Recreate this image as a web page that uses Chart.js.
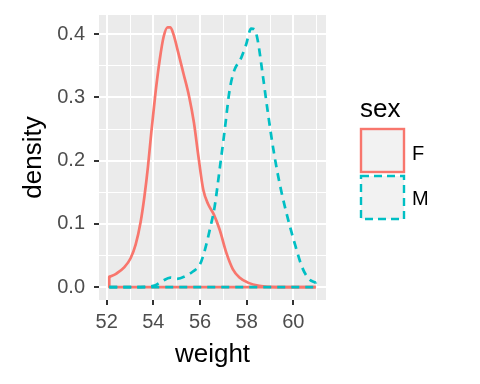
<!DOCTYPE html>
<html>
<head>
<meta charset="utf-8">
<script src="https://cdn.jsdelivr.net/npm/chart.js@4"></script>
<style>
  html, body { margin: 0; padding: 0; background: #ffffff; }
  #wrap { position: relative; width: 480px; height: 384px; }
  canvas { position: absolute; left: 0; top: 0; }
  .lg { position: absolute; font-family: "Liberation Sans", Arial, sans-serif; line-height: 1; color: #000; white-space: nowrap; }
</style>
</head>
<body>
<div id="wrap">
  <canvas id="c" width="480" height="384"></canvas>
  <div class="lg" id="legTitle" style="left:360px; top:95px; font-size:26px;"></div>
  <svg style="position:absolute; left:358px; top:126px;" width="50" height="100">
    <rect x="3" y="3" width="43" height="43" fill="#F2F2F2" stroke="#F8766D" stroke-width="2.4"/>
    <rect x="3" y="50" width="43" height="43" fill="#F2F2F2" stroke="#00BFC4" stroke-width="2.4" stroke-dasharray="8,5"/>
  </svg>
  <div class="lg" id="legF" style="left:412px; top:143px; font-size:20px;"></div>
  <div class="lg" id="legM" style="left:412px; top:188px; font-size:20px;"></div>
</div>
<script>
// ---- data ----
const groups = ['F', 'M'];
const legendTitle = 'sex';
const xTitle = 'weight';
const yTitle = 'density';

const fWeight  = [52.11, 52.40, 52.75, 53.03, 53.24, 53.45, 53.62, 53.77, 53.91, 54.09, 54.27, 54.44, 54.61, 54.73, 54.87, 55.04, 55.29, 55.53, 55.74, 55.93, 56.14, 56.35, 56.59, 56.84, 57.13, 57.41, 57.69, 58.05, 58.54, 59.25, 60.96];
const fDensity = [0.016, 0.021, 0.031, 0.046, 0.067, 0.102, 0.144, 0.191, 0.244, 0.307, 0.359, 0.396, 0.411, 0.411, 0.399, 0.375, 0.338, 0.302, 0.260, 0.207, 0.154, 0.131, 0.115, 0.091, 0.054, 0.028, 0.015, 0.007, 0.002, 0.000, 0.000];

const mWeight  = [52.11, 53.45, 54.09, 54.37, 54.73, 55.01, 55.36, 55.71, 56.00, 56.21, 56.42, 56.63, 56.84, 57.06, 57.27, 57.48, 57.72, 57.97, 58.19, 58.33, 58.47, 58.68, 58.89, 59.10, 59.32, 59.53, 59.81, 60.09, 60.38, 60.66, 60.96];
const mDensity = [0.000, 0.000, 0.003, 0.009, 0.015, 0.013, 0.017, 0.025, 0.036, 0.059, 0.091, 0.128, 0.186, 0.249, 0.312, 0.344, 0.359, 0.383, 0.409, 0.408, 0.391, 0.338, 0.281, 0.228, 0.181, 0.144, 0.102, 0.065, 0.031, 0.013, 0.007];

const xMajor = [52, 54, 56, 58, 60];
const xMajorLabels = ['52', '54', '56', '58', '60'];
const xMinor = [53, 55, 57, 59, 61];
const yMajor = [0, 0.1, 0.2, 0.3, 0.4];
const yMajorLabels = ['0.0', '0.1', '0.2', '0.3', '0.4'];
const yMinor = [0.05, 0.15, 0.25, 0.35];

const xRange = [51.67, 61.40];
const yRange = [-0.0205, 0.4305];

// ---- legend text ----
document.getElementById('legTitle').textContent = legendTitle;
document.getElementById('legF').textContent = groups[0];
document.getElementById('legM').textContent = groups[1];

// ---- build datasets ----
const pts = (xs, ys) => xs.map((x, i) => ({ x: x, y: ys[i] }));
const fCurve = pts(fWeight, fDensity);
const mCurve = pts(mWeight, mDensity);
// outline closing segments of the density polygons (baseline + end verticals)
const fBase = [
  { x: fWeight[0], y: fDensity[0] }, { x: fWeight[0], y: 0 },
  { x: fWeight[fWeight.length - 1], y: 0 }, { x: fWeight[fWeight.length - 1], y: fDensity[fDensity.length - 1] }
];
const mBase = [
  { x: mWeight[0], y: mDensity[0] }, { x: mWeight[0], y: 0 },
  { x: mWeight[mWeight.length - 1], y: 0 }, { x: mWeight[mWeight.length - 1], y: mDensity[mDensity.length - 1] }
];

const RED = '#F8766D', CYAN = '#00BFC4';
const DASH = [8, 6];
const LW = 2.7;

const isIn = (arr, v) => arr.some(a => Math.abs(a - v) < 1e-6);
const labelFor = (majors, labels, v) => {
  const i = majors.findIndex(a => Math.abs(a - v) < 1e-6);
  return i >= 0 ? labels[i] : '';
};

const panelBg = {
  id: 'panelBg',
  beforeDraw(chart) {
    const { ctx, chartArea: a } = chart;
    ctx.save();
    ctx.fillStyle = '#EBEBEB';
    ctx.fillRect(a.left, a.top, a.right - a.left, a.bottom - a.top);
    ctx.restore();
  }
};

const lineDs = (data, color, dashed, curve) => ({
  data: data,
  borderColor: color,
  backgroundColor: color,
  borderWidth: LW,
  borderDash: dashed ? DASH : [],
  borderCapStyle: 'butt',
  borderJoinStyle: 'round',
  showLine: true,
  pointRadius: 0,
  pointHoverRadius: 0,
  fill: false,
  tension: 0,
  cubicInterpolationMode: curve ? 'monotone' : 'default'
});

const FONT = "'Liberation Sans', Arial, sans-serif";

new Chart(document.getElementById('c'), {
  type: 'scatter',
  data: {
    datasets: [
      lineDs(mCurve, CYAN, true, true),
      lineDs(mBase, CYAN, true, false),
      lineDs(fCurve, RED, false, true),
      lineDs(fBase, RED, false, false)
    ]
  },
  options: {
    responsive: false,
    animation: false,
    events: [],
    layout: { padding: { left: 0, top: 15, right: 154, bottom: 0 } },
    plugins: { legend: { display: false }, tooltip: { enabled: false } },
    scales: {
      x: {
        type: 'linear',
        min: xRange[0], max: xRange[1],
        afterBuildTicks: (s) => { s.ticks = xMajor.concat(xMinor).sort((a, b) => a - b).map(v => ({ value: v })); },
        afterFit: (s) => { s.height = 84; s.paddingLeft = 0; s.paddingRight = 0; },
        border: { display: false },
        grid: {
          color: '#FFFFFF',
          lineWidth: (c) => (c.tick && isIn(xMajor, c.tick.value)) ? 2 : 1,
          tickColor: (c) => (c.tick && isIn(xMajor, c.tick.value)) ? '#333333' : 'rgba(0,0,0,0)',
          tickWidth: 2,
          tickLength: 5,
          drawTicks: true
        },
        ticks: {
          autoSkip: false, maxRotation: 0, minRotation: 0,
          padding: 5,
          color: '#4D4D4D',
          font: { family: FONT, size: 20 },
          callback: (v) => labelFor(xMajor, xMajorLabels, v)
        },
        title: {
          display: true, text: xTitle, color: '#000000',
          font: { family: FONT, size: 26 },
          padding: { top: 0, bottom: 14 }
        }
      },
      y: {
        type: 'linear',
        min: yRange[0], max: yRange[1],
        afterBuildTicks: (s) => { s.ticks = yMajor.concat(yMinor).sort((a, b) => a - b).map(v => ({ value: v })); },
        afterFit: (s) => { s.width = 99; s.paddingTop = 0; s.paddingBottom = 0; },
        border: { display: false },
        grid: {
          color: '#FFFFFF',
          lineWidth: (c) => (c.tick && isIn(yMajor, c.tick.value)) ? 2 : 1,
          tickColor: (c) => (c.tick && isIn(yMajor, c.tick.value)) ? '#333333' : 'rgba(0,0,0,0)',
          tickWidth: 2,
          tickLength: 5,
          drawTicks: true
        },
        ticks: {
          autoSkip: false,
          padding: 9,
          color: '#4D4D4D',
          font: { family: FONT, size: 20 },
          callback: (v) => labelFor(yMajor, yMajorLabels, v)
        },
        title: {
          display: true, text: yTitle, color: '#000000',
          font: { family: FONT, size: 26 },
          padding: { top: 18, bottom: 0 }
        }
      }
    }
  },
  plugins: [panelBg]
});
</script>
</body>
</html>
